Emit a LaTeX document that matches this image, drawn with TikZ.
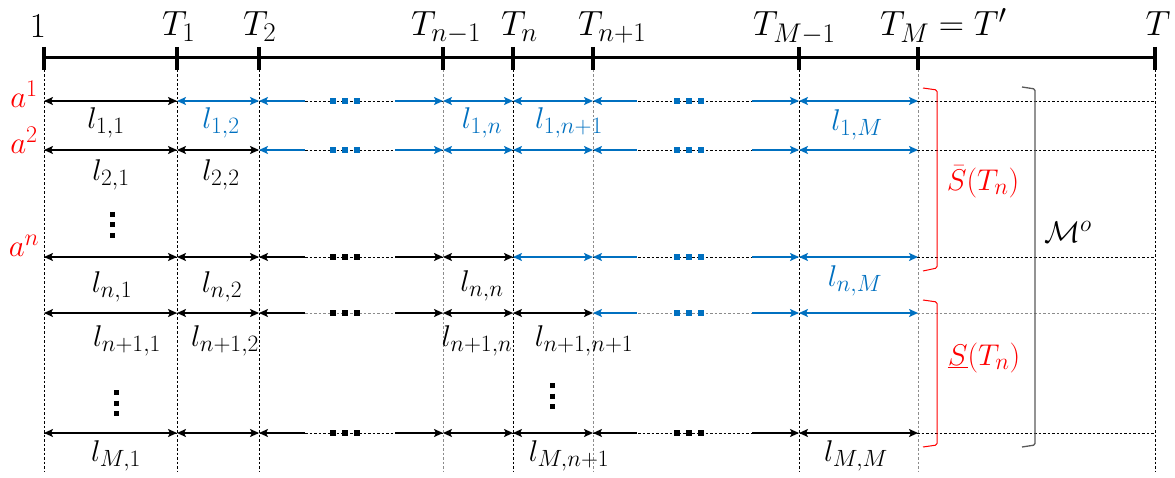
\documentclass[tikz,border=0pt]{standalone}
\usepackage{fix-cm}
\DeclareMathSizes{35}{35}{27}{20}
\DeclareMathSizes{30}{30}{23.5}{18}
\DeclareMathSizes{31}{31}{24}{18}
\usetikzlibrary{arrows.meta}
\definecolor{myblue}{HTML}{0070C0}
\definecolor{myred}{HTML}{FF0000}
\definecolor{brgray}{HTML}{595959}
\definecolor{gridgray}{HTML}{8C8C8C}
\tikzset{
  axisline/.style={line width=3pt},
  tickline/.style={line width=3.5pt},
  gridline/.style={line width=0.8pt, dash pattern=on 2.5pt off 2pt},
  arr/.style={line width=2.4pt},
  tipL/.style={arr, {Stealth[length=9pt,width=8pt,inset=2pt]}-},
  tipR/.style={arr, -{Stealth[length=9pt,width=8pt,inset=2pt]}},
  tipLR/.style={arr, {Stealth[length=9pt,width=8pt,inset=2pt]}-{Stealth[length=9pt,width=8pt,inset=2pt]}},
  bk/.style={tipLR, black},
  bl/.style={tipLR, myblue},
  bkL/.style={tipL, black},
  bkR/.style={tipR, black},
  blL/.style={tipL, myblue},
  blR/.style={tipR, myblue},
  hdots/.style={line width=6pt, dash pattern=on 6pt off 6pt},
  vdots/.style={line width=5pt, dash pattern=on 5pt off 5.5pt},
  toplab/.style={font=\fontsize{35}{40}\selectfont, inner sep=0pt},
  lab/.style={font=\fontsize{30}{34}\selectfont, inner sep=0pt},
  alab/.style={font=\fontsize{31}{36}\selectfont, inner sep=0pt, text=myred},
  bracket/.style={line width=1pt, rounded corners=1.5pt},
}
\begin{document}
\begin{tikzpicture}[x=1pt,y=-1pt]
\useasboundingbox (0,0) rectangle (1175,478);
% column positions
\coordinate (c0) at (44,0);
\coordinate (c1) at (177,0);
\coordinate (c2) at (259,0);
\coordinate (cA) at (305,0);
\coordinate (cD1) at (330,0);
\coordinate (cD2) at (360,0);
\coordinate (cB) at (395,0);
\coordinate (c3) at (443,0);
\coordinate (c4) at (513,0);
\coordinate (c5) at (593,0);
\coordinate (cE) at (637,0);
\coordinate (cF1) at (674,0);
\coordinate (cF2) at (704,0);
\coordinate (cG) at (752,0);
\coordinate (c6) at (799,0);
\coordinate (c7) at (918,0);
\coordinate (c8) at (1155,0);
% row positions
\coordinate (r0) at (0,58);
\coordinate (rt) at (0,47);
\coordinate (rb) at (0,70);
\coordinate (r1) at (0,101);
\coordinate (r2) at (0,150);
\coordinate (rn) at (0,257);
\coordinate (rm) at (0,313);
\coordinate (rM) at (0,433);
\coordinate (rz) at (0,472);

% grid lines
\foreach \c in {c0,c1,c2,c4,c6,c8}
  \draw[gridline, black] (\c|-rb) -- (\c|-rz);
\foreach \c in {c3,c5,c7}
  \draw[gridline, gridgray] (\c|-rb) -- (\c|-rz);
\foreach \r in {r1,r2,rn,rM}
  \draw[gridline, black] (c0|-\r) -- (c8|-\r);
\draw[gridline, gridgray] (c0|-rm) -- (c8|-rm);

% axis
\draw[axisline] (c0|-r0) -- (c8|-r0);
\foreach \c in {c0,c1,c2,c3,c4,c5,c6,c7,c8}
  \draw[tickline] (\c|-rt) -- (\c|-rb);

% top labels
\node[toplab, anchor=base] (L1) at (38,38) {$1$};
\node[toplab, anchor=base west] (LT1) at (162,36) {$T_1$};
\node[toplab, anchor=base west] (LT2) at (243,36) {$T_2$};
\node[toplab, anchor=base west] (LTn1) at (411,36) {$T_{n-1}$};
\node[toplab, anchor=base west] (LTn) at (501,36) {$T_n$};
\node[toplab, anchor=base west] (LTnp) at (578,36) {$T_{n+1}$};
\node[toplab, anchor=base west] (LTM1) at (753,36) {$T_{M-1}$};
\node[toplab, anchor=base west] (LTM) at (880,36) {$T_M = T'$};
\node[toplab, anchor=base] (LT) at (1158,36) {$T$};

% row 1
\foreach \a/\b/\s in {c0/c1/bk, c1/c2/bl, c2/cA/blL, cB/c3/blR, c3/c4/bl, c4/c5/bl, c5/cE/blL, cG/c6/blR, c6/c7/bl}
  \draw[\s] (\a|-r1) -- (\b|-r1);
\draw[hdots, myblue] (cD1|-r1) -- (cD2|-r1);
\draw[hdots, myblue] (cF1|-r1) -- (cF2|-r1);
% row 2
\foreach \a/\b/\s in {c0/c1/bk, c1/c2/bk, c2/cA/blL, cB/c3/blR, c3/c4/bl, c4/c5/bl, c5/cE/blL, cG/c6/blR, c6/c7/bl}
  \draw[\s] (\a|-r2) -- (\b|-r2);
\draw[hdots, myblue] (cD1|-r2) -- (cD2|-r2);
\draw[hdots, myblue] (cF1|-r2) -- (cF2|-r2);
% row n
\foreach \a/\b/\s in {c0/c1/bk, c1/c2/bk, c2/cA/bkL, cB/c3/bkR, c3/c4/bk, c4/c5/bl, c5/cE/blL, cG/c6/blR, c6/c7/bl}
  \draw[\s] (\a|-rn) -- (\b|-rn);
\draw[hdots, black] (cD1|-rn) -- (cD2|-rn);
\draw[hdots, myblue] (cF1|-rn) -- (cF2|-rn);
% row n+1
\foreach \a/\b/\s in {c0/c1/bk, c1/c2/bk, c2/cA/bkL, cB/c3/bkR, c3/c4/bk, c4/c5/bk, c5/cE/blL, cG/c6/blR, c6/c7/bl}
  \draw[\s] (\a|-rm) -- (\b|-rm);
\draw[hdots, black] (cD1|-rm) -- (cD2|-rm);
\draw[hdots, myblue] (cF1|-rm) -- (cF2|-rm);
% row M
\foreach \a/\b/\s in {c0/c1/bk, c1/c2/bk, c2/cA/bkL, cB/c3/bkR, c3/c4/bk, c4/c5/bk, c5/cE/bkL, cG/c6/bkR, c6/c7/bk}
  \draw[\s] (\a|-rM) -- (\b|-rM);
\draw[hdots, black] (cD1|-rM) -- (cD2|-rM);
\draw[hdots, black] (cF1|-rM) -- (cF2|-rM);

% vertical dots
\draw[vdots] (112,212) -- (112,238);
\draw[vdots] (116,390) -- (116,416);
\draw[vdots] (552,383) -- (552,409);

% row labels a
\node[alab] (a1) at (24,94) {$a^1$};
\node[alab] (a2) at (24,140) {$a^2$};
\node[alab] (an) at (24,246) {$a^n$};

% l labels
\node[lab] (l11) at (106,123) {$l_{1,1}$};
\node[lab, text=myblue] (l12) at (221,123) {$l_{1,2}$};
\node[lab, text=myblue] (l1n) at (482,123) {$l_{1,n}$};
\node[lab, text=myblue] (l1np) at (569,123) {$l_{1,n+1}$};
\node[lab, text=myblue] (l1M) at (857,125) {$l_{1,M}$};
\node[lab] (l21) at (111,175) {$l_{2,1}$};
\node[lab] (l22) at (221,175) {$l_{2,2}$};
\node[lab] (ln1) at (112,287) {$l_{n,1}$};
\node[lab] (ln2) at (222,287) {$l_{n,2}$};
\node[lab] (lnn) at (482,286) {$l_{n,n}$};
\node[lab, text=myblue] (lnM) at (855,281) {$l_{n,M}$};
\node[lab] (lm1) at (127,341) {$l_{n+1,1}$};
\node[lab] (lm2) at (225,341) {$l_{n+1,2}$};
\node[lab] (lmn) at (477,341) {$l_{n+1,n}$};
\node[lab] (lmm) at (584,341) {$l_{n+1,n+1}$};
\node[lab] (lM1) at (116,456) {$l_{M,1}$};
\node[lab] (lMm) at (569,456) {$l_{M,n+1}$};
\node[lab] (lMM) at (856,456) {$l_{M,M}$};

% brackets
\draw[bracket, myred] (923,88) -- (937,90) -- (937,268) -- (923,271);
\draw[bracket, myred] (923,300) -- (937,302) -- (937,445) -- (923,447);
\draw[bracket, brgray, line width=1.3pt] (1022,87) -- (1035,89) -- (1035,445) -- (1022,447);

\node[lab, text=myred] (Sbar) at (983,182) {$\bar{S}(T_n)$};
\node[lab, text=myred] (Sund) at (984,358) {$\underline{S}(T_n)$};
\node[lab] (Mo) at (1068,232) {$\mathcal{M}^o$};
\end{tikzpicture}
\end{document}
